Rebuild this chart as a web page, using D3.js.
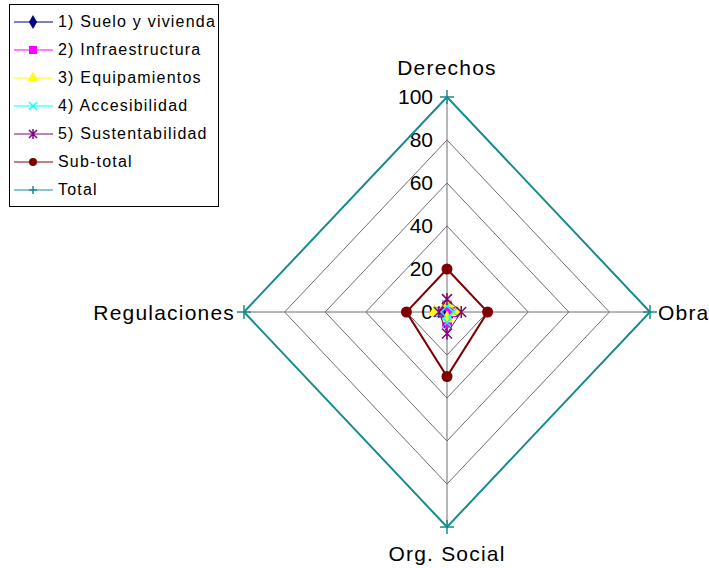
<!DOCTYPE html>
<html>
<head>
<meta charset="utf-8">
<script src="https://d3js.org/d3.v7.min.js"></script>
<style>
  body { margin: 0; background: #fff; }
  text { font-family: "Liberation Sans", Arial, sans-serif; }
</style>
</head>
<body>
<svg width="709" height="568"></svg>
<script>
var axes = ["Derechos", "Obra", "Org. Social", "Regulaciones"];
var ticks = [0, 20, 40, 60, 80, 100];
var seriesNames = ["1) Suelo y vivienda", "2) Infraestructura", "3) Equipamientos", "4) Accesibilidad", "5) Sustentabilidad", "Sub-total", "Total"];
var suelo = [2, 2, 3, 2];
var infra = [3, 2, 5, 4];
var equip = [4, 5, 3, 6];
var acces = [3, 3, 5, 3];
var sust = [6, 7, 10, 4];
var subtotal = [20, 20, 30, 20];
var total = [100, 100, 100, 100];

var seriesValues = [suelo, infra, equip, acces, sust, subtotal, total];
var colors = ["#000080", "#ff00ff", "#ffff00", "#00ffff", "#800080", "#800000", "#1a8c8c"];
var markers = ["diamond", "square", "triangle", "x", "star", "circle", "plus"];
var widths = [1, 1, 1, 1, 1, 2, 2];

var svg = d3.select("svg");
var cx = 447, cy = 312;
var rx = d3.scaleLinear().domain([0, 100]).range([0, 203]);
var ry = d3.scaleLinear().domain([0, 100]).range([0, 215]);

// Derechos up, Obra right, Org. Social down, Regulaciones left
var dirs = [[0, -1], [1, 0], [0, 1], [-1, 0]];
function pt(i, v) {
  return [cx + dirs[i][0] * rx(v), cy + dirs[i][1] * ry(v)];
}

var g = svg.append("g");

// grid rings
ticks.slice(1).forEach(function (t) {
  g.append("polygon")
    .attr("points", axes.map(function (a, i) { return pt(i, t).join(","); }).join(" "))
    .attr("fill", "none").attr("stroke", "#6e6e6e").attr("stroke-width", 1);
});
// spokes
axes.forEach(function (a, i) {
  var p = pt(i, 100);
  g.append("line").attr("x1", cx).attr("y1", cy).attr("x2", p[0]).attr("y2", p[1])
    .attr("stroke", "#6e6e6e").attr("stroke-width", 1);
});

// tick labels
ticks.forEach(function (t) {
  g.append("text").attr("x", cx - 14).attr("y", cy - ry(t) + 7)
    .attr("text-anchor", "end").attr("font-size", 21).attr("fill", "#000").text(t);
});

// axis labels
function axisLabel(x, y, anchor, txt) {
  g.append("text").attr("x", x).attr("y", y).attr("text-anchor", anchor)
    .attr("font-size", 21).attr("letter-spacing", 1.2).text(txt);
}
axisLabel(cx, 75, "middle", axes[0]);
axisLabel(cx + rx(100) + 8, cy + 8, "start", axes[1]);
axisLabel(cx, 561, "middle", axes[2]);
axisLabel(cx - rx(100) - 9, cy + 8, "end", axes[3]);

function drawMarker(sel, type, x, y, color, size) {
  var s = size;
  if (type === "diamond") {
    sel.append("path").attr("d", d3.symbol().type(d3.symbolDiamond).size(s * s * 0.9)())
      .attr("transform", "translate(" + x + "," + y + ")").attr("fill", color);
  } else if (type === "square") {
    sel.append("rect").attr("x", x - s / 2).attr("y", y - s / 2).attr("width", s).attr("height", s).attr("fill", color);
  } else if (type === "triangle") {
    sel.append("path").attr("d", d3.symbol().type(d3.symbolTriangle).size(s * s * 0.8)())
      .attr("transform", "translate(" + x + "," + y + ")").attr("fill", color);
  } else if (type === "x") {
    sel.append("path").attr("d", "M" + (x - s / 2) + "," + (y - s / 2) + "L" + (x + s / 2) + "," + (y + s / 2) +
      "M" + (x - s / 2) + "," + (y + s / 2) + "L" + (x + s / 2) + "," + (y - s / 2))
      .attr("stroke", color).attr("stroke-width", 1.2);
  } else if (type === "star") {
    sel.append("path").attr("d", "M" + (x - s / 2) + "," + (y - s / 2) + "L" + (x + s / 2) + "," + (y + s / 2) +
      "M" + (x - s / 2) + "," + (y + s / 2) + "L" + (x + s / 2) + "," + (y - s / 2) +
      "M" + x + "," + (y - s / 2 - 1) + "L" + x + "," + (y + s / 2 + 1))
      .attr("stroke", color).attr("stroke-width", 1.5);
  } else if (type === "circle") {
    sel.append("circle").attr("cx", x).attr("cy", y).attr("r", s / 2).attr("fill", color);
  } else if (type === "plus") {
    sel.append("path").attr("d", "M" + (x - s / 2) + "," + y + "L" + (x + s / 2) + "," + y +
      "M" + x + "," + (y - s / 2) + "L" + x + "," + (y + s / 2))
      .attr("stroke", color).attr("stroke-width", 1.5);
  }
}

var line = d3.line().curve(d3.curveLinearClosed);

// total, then subtotal, then the small series on top
var order = [6, 5, 0, 1, 2, 3, 4];
order.forEach(function (k) {
  var pts = seriesValues[k].map(function (v, i) { return pt(i, v); });
  var sg = svg.append("g");
  sg.append("path").attr("d", line(pts)).attr("fill", "none")
    .attr("stroke", colors[k]).attr("stroke-width", widths[k]);
  pts.forEach(function (p) {
    drawMarker(sg, markers[k], p[0], p[1], colors[k], k === 5 ? 11 : (k === 6 ? 14 : 10));
  });
});

// legend
var leg = svg.append("g");
leg.append("rect").attr("x", 9.5).attr("y", 4.5).attr("width", 209).attr("height", 202)
  .attr("fill", "#fff").attr("stroke", "#000").attr("stroke-width", 1);
seriesNames.forEach(function (n, k) {
  var y = 22 + k * 28;
  leg.append("line").attr("x1", 14).attr("x2", 53).attr("y1", y).attr("y2", y)
    .attr("stroke", colors[k]).attr("stroke-width", 1);
  drawMarker(leg, markers[k], 33, y, colors[k], 8);
  leg.append("text").attr("x", 58).attr("y", y + 5).attr("font-size", 16)
    .attr("letter-spacing", 1.2).attr("fill", "#000").text(n);
});
</script>
</body>
</html>
